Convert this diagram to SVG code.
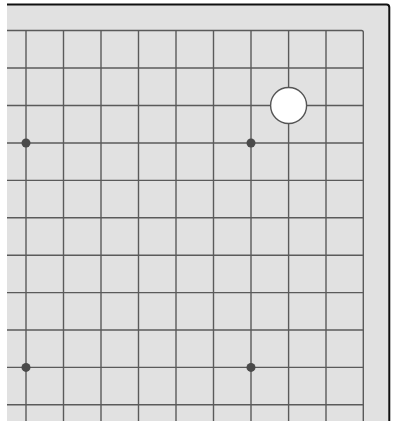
<svg xmlns="http://www.w3.org/2000/svg" width="395" height="423" viewBox="0 0 395 423">
<style>
.grid line{stroke:#5a5a5a;stroke-width:1.4}
.star{fill:#4a4a4a}
.stone{fill:#fff;stroke:#555;stroke-width:1.4}
</style>
<rect x="0" y="0" width="395" height="423" fill="#fff"/>
<rect id="board" x="7" y="4" width="382" height="417" fill="#e1e1e1"/>
<path id="frame" d="M7 4.5 H386.5 Q389.3 4.5 389.3 7.5 V421" fill="none" stroke="#111" stroke-width="2"/>
<g id="connectors" class="grid">
<path d="M7 30.5 H361.5 Q363.3 30.5 363.3 32.3 V421" fill="none" stroke="#5a5a5a" stroke-width="1.4"/>
<line x1="7" y1="68" x2="363.3" y2="68"/>
<line x1="7" y1="105.5" x2="363.3" y2="105.5"/>
<line x1="7" y1="143" x2="363.3" y2="143"/>
<line x1="7" y1="180.4" x2="363.3" y2="180.4"/>
<line x1="7" y1="217.8" x2="363.3" y2="217.8"/>
<line x1="7" y1="255.2" x2="363.3" y2="255.2"/>
<line x1="7" y1="292.6" x2="363.3" y2="292.6"/>
<line x1="7" y1="330" x2="363.3" y2="330"/>
<line x1="7" y1="367.4" x2="363.3" y2="367.4"/>
<line x1="7" y1="404.8" x2="363.3" y2="404.8"/>
<line x1="26" y1="30.5" x2="26" y2="421"/>
<line x1="63.5" y1="30.5" x2="63.5" y2="421"/>
<line x1="101" y1="30.5" x2="101" y2="421"/>
<line x1="138.5" y1="30.5" x2="138.5" y2="421"/>
<line x1="176" y1="30.5" x2="176" y2="421"/>
<line x1="213.5" y1="30.5" x2="213.5" y2="421"/>
<line x1="251" y1="30.5" x2="251" y2="421"/>
<line x1="288.6" y1="30.5" x2="288.6" y2="421"/>
<line x1="326" y1="30.5" x2="326" y2="421"/>
</g>
<g id="star1"><circle class="star" cx="26" cy="143" r="4.5"/></g>
<g id="star2"><circle class="star" cx="251" cy="143" r="4.5"/></g>
<g id="star3"><circle class="star" cx="26" cy="367.4" r="4.5"/></g>
<g id="star4"><circle class="star" cx="251" cy="367.4" r="4.5"/></g>
<g id="stone"><circle class="stone" cx="288.6" cy="105.5" r="18"/></g>
</svg>
